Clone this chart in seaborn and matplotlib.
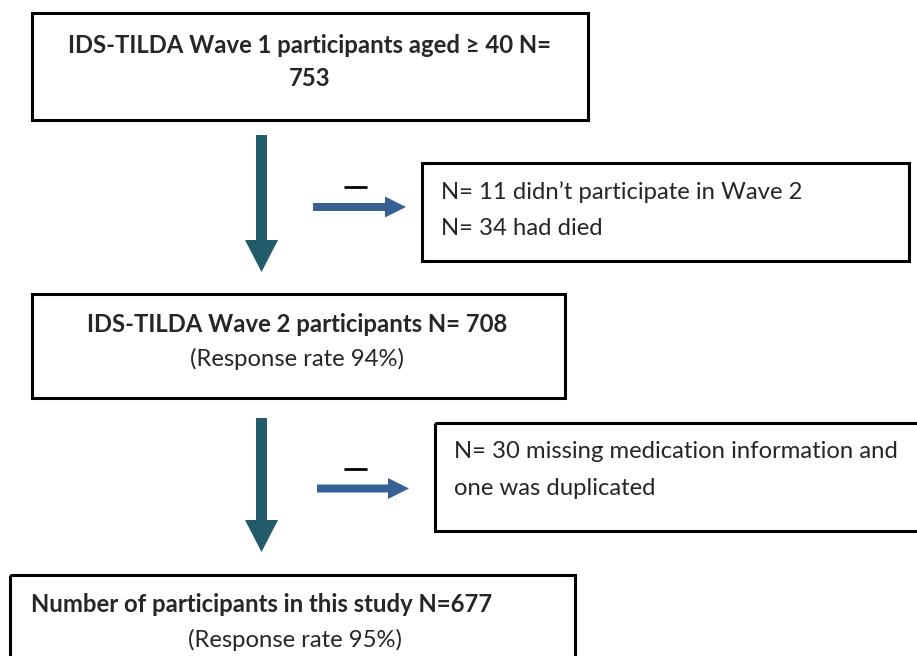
import matplotlib
matplotlib.use('Agg')
import matplotlib.pyplot as plt
import seaborn as sns
from matplotlib.patches import Rectangle, FancyArrow

# flowchart text
main_titles = ['IDS-TILDA Wave 1 participants aged \u2265 40 N=\n753',
               'IDS-TILDA Wave 2 participants N= 708',
               'Number of participants in this study N=677']
main_notes = ['', '(Response rate 94%)', '(Response rate 95%)']
excluded = ['N= 11 didn\u2019t participate in Wave 2\nN= 34 had died',
            'N= 30 missing medication information and\none was duplicated']

sns.set_theme(style='white')
plt.rcParams['font.family'] = ['Lato', 'DejaVu Sans']

fig = plt.figure(figsize=(9.17, 6.56), dpi=100)
ax = fig.add_axes([0, 0, 1, 1])
ax.set_xlim(0, 917)
ax.set_ylim(656, 0)
ax.axis('off')

FS = 17.2
vcol = '#225B69'
hcol = '#376094'


def box(x0, y0, x1, y1):
    ax.add_patch(Rectangle((x0, y0), x1 - x0, y1 - y0, fill=False,
                           edgecolor='black', linewidth=2.2))


def down_arrow(x, y0, y1):
    ax.add_patch(FancyArrow(x, y0, 0, y1 - y0, width=11, head_width=33,
                            head_length=32, length_includes_head=True,
                            color=vcol, linewidth=0))


def right_arrow(x0, x1, y):
    ax.add_patch(FancyArrow(x0, y, x1 - x0, 0, width=8, head_width=21,
                            head_length=21, length_includes_head=True,
                            color=hcol, linewidth=0))
    ax.plot([345, 366], [y - 20, y - 20], color='black', linewidth=2)


# box 1
box(32, 13, 588, 120)
ax.text(310, 62, main_titles[0], ha='center', va='center', fontsize=FS,
        fontweight='bold', linespacing=1.55)

down_arrow(261.5, 135, 272)
right_arrow(313, 406, 207)

# excluded 1
box(422, 163, 909, 261)
ax.text(441, 210, excluded[0], ha='left', va='center', fontsize=FS,
        linespacing=1.88)

# box 2
box(32, 294, 565, 398)
ax.text(297, 324, main_titles[1], ha='center', va='center', fontsize=FS,
        fontweight='bold')
ax.text(297, 359, main_notes[1], ha='center', va='center', fontsize=FS)

down_arrow(261.5, 418, 552)
right_arrow(317, 409, 488.5)

# excluded 2
box(435, 423, 930, 531)
ax.text(454, 470, excluded[1], ha='left', va='center', fontsize=FS,
        linespacing=1.9)

# box 3
box(10, 575, 575, 680)
ax.text(31, 605, main_titles[2], ha='left', va='center', fontsize=FS,
        fontweight='bold')
ax.text(295, 640, main_notes[2], ha='center', va='center', fontsize=FS)

fig.savefig('out.png', dpi=100)
